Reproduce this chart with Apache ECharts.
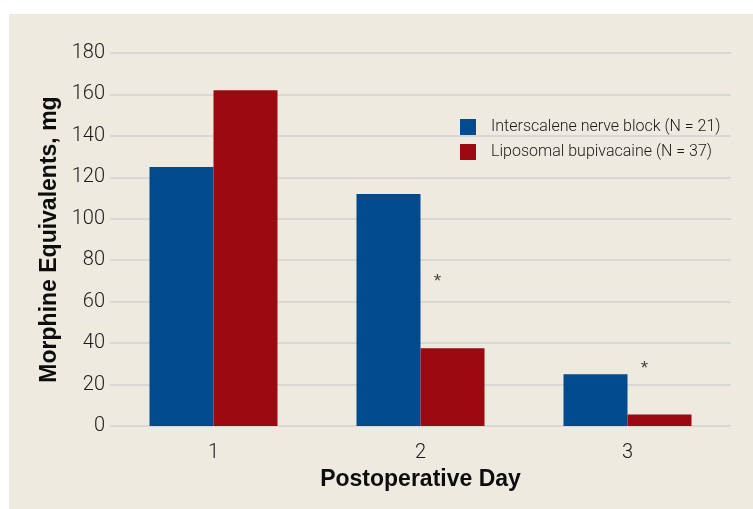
<!DOCTYPE html>
<html>
<head>
<meta charset="utf-8">
<script src="https://cdn.jsdelivr.net/npm/echarts@6/dist/echarts.min.js"></script>
<style>
html,body{margin:0;padding:0;background:#ffffff;}
#chart{width:753px;height:509px;}
</style>
</head>
<body>
<div id="chart"></div>
<script>
const days = ['1', '2', '3'];
const interscalene = [125, 112, 25];
const liposomal = [162, 37.5, 5.5];
const asteriskPos = [null, 71.5, 29.5];
const yTicks = [0, 20, 40, 60, 80, 100, 120, 140, 160, 180];
const seriesNames = ['Interscalene nerve block (N = 21)', 'Liposomal bupivacaine (N = 37)'];

const chart = echarts.init(document.getElementById('chart'), null, {renderer: 'canvas'});
const tickFont = {fontFamily: 'Roboto', fontWeight: 300, color: '#1a1a1a', fontSize: 20};

chart.setOption({
  animation: false,
  backgroundColor: 'transparent',
  graphic: [{
    type: 'rect', left: 9, top: 14, z: -10,
    shape: {width: 744, height: 495},
    style: {fill: '#eeeae0'}
  }],
  grid: {left: 110, right: 22, top: 53, bottom: 83, containLabel: false},
  legend: {
    data: seriesNames,
    orient: 'vertical',
    left: 455, top: 114,
    itemWidth: 16, itemHeight: 16, itemGap: 9,
    icon: 'rect',
    textStyle: {fontFamily: 'Roboto', fontWeight: 300, fontSize: 16, color: '#1a1a1a', padding: [0, 0, 0, 10]}
  },
  xAxis: {
    type: 'category',
    data: days,
    name: 'Postoperative Day',
    nameLocation: 'middle',
    nameGap: 38,
    nameTextStyle: {fontFamily: 'Liberation Sans', fontWeight: 'bold', fontSize: 23, color: '#0d0d0d'},
    axisLine: {show: false},
    axisTick: {show: false},
    axisLabel: Object.assign({margin: 17}, tickFont)
  },
  yAxis: {
    type: 'value',
    min: yTicks[0], max: yTicks[yTicks.length - 1], interval: 20,
    name: 'Morphine Equivalents, mg',
    nameLocation: 'middle',
    nameGap: 45,
    nameTextStyle: {fontFamily: 'Liberation Sans', fontWeight: 'bold', fontSize: 23, color: '#0d0d0d'},
    axisLine: {show: false},
    axisTick: {show: false},
    axisLabel: Object.assign({margin: 5}, tickFont),
    splitLine: {lineStyle: {color: '#d2d2d4', width: 1.5}}
  },
  series: [
    {
      name: seriesNames[0], type: 'bar', data: interscalene,
      barWidth: 64, barGap: '0%',
      itemStyle: {color: '#004b8e'}
    },
    {
      name: seriesNames[1], type: 'bar', data: liposomal,
      barWidth: 64, barGap: '0%',
      itemStyle: {color: '#9b0a10'}
    },
    {
      name: 'sig', type: 'scatter', data: asteriskPos,
      symbolSize: 1, itemStyle: {color: 'transparent'},
      label: {show: true, formatter: '*', position: 'inside', offset: [17, 4],
        fontFamily: 'Liberation Sans', fontSize: 19, color: '#111111'},
      z: 5
    }
  ]
});
</script>
</body>
</html>
